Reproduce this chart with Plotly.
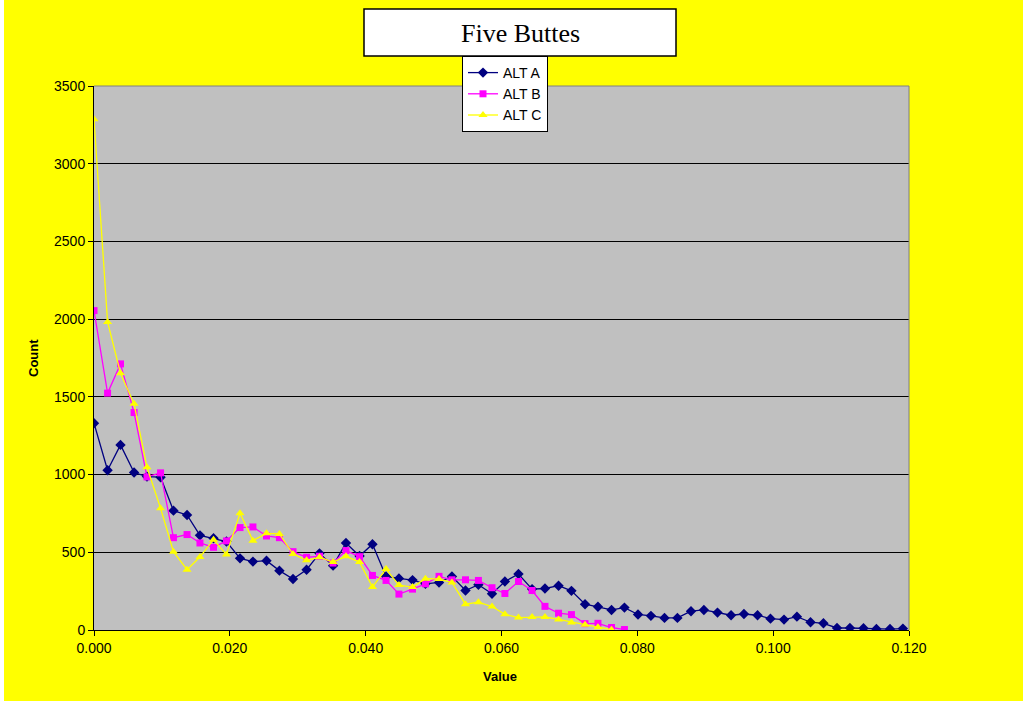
import plotly.graph_objects as go

x_values = [0.0000, 0.0020, 0.0039, 0.0059, 0.0078, 0.0098, 0.0117, 0.0137, 0.0156, 0.0176,
            0.0195, 0.0215, 0.0234, 0.0254, 0.0273, 0.0293, 0.0313, 0.0332, 0.0352, 0.0371,
            0.0391, 0.0410, 0.0430, 0.0449, 0.0469, 0.0488, 0.0508, 0.0527, 0.0547, 0.0566,
            0.0586, 0.0605, 0.0625, 0.0645, 0.0664, 0.0684, 0.0703, 0.0723, 0.0742, 0.0762,
            0.0781, 0.0801, 0.0820, 0.0840, 0.0859, 0.0879, 0.0898, 0.0918, 0.0938, 0.0957,
            0.0977, 0.0996, 0.1016, 0.1035, 0.1055, 0.1074, 0.1094, 0.1113, 0.1133, 0.1152,
            0.1172, 0.1191]

alt_a = [1330, 1028, 1191, 1013, 987, 983, 768, 740, 609, 590,
         569, 461, 440, 446, 382, 328, 388, 493, 414, 560,
         476, 552, 345, 332, 321, 297, 306, 345, 254, 291,
         233, 312, 360, 263, 267, 285, 252, 166, 150, 129,
         144, 100, 91, 78, 78, 121, 129, 112, 95, 103,
         95, 73, 67, 86, 50, 43, 13, 13, 11, 6,
         6, 9]

alt_b = [2055, 1524, 1712, 1399, 985, 1011, 594, 614, 560, 532,
         573, 659, 663, 605, 594, 504, 468, 474, 431, 511,
         472, 351, 319, 231, 263, 297, 345, 323, 323, 319,
         272, 235, 312, 254, 152, 108, 99, 41, 43, 16,
         3]

alt_c = [3286, 1982, 1652, 1455, 1047, 783, 504, 388, 470, 581,
         485, 751, 575, 622, 618, 489, 448, 468, 437, 474,
         437, 276, 392, 289, 276, 330, 328, 306, 166, 179,
         151, 101, 80, 84, 84, 68, 49, 34, 18, 2]

series_names = ["ALT A", "ALT B", "ALT C"]
chart_title = "Five Buttes"
x_title = "Value"
y_title = "Count"

W, H = 1023, 706
L, R, T, B = 94, 909, 86, 630
pw, ph = R - L, B - T

def px_x(p):
    return (p - L) / pw

def px_y(p):
    return (B - p) / ph

fig = go.Figure()
fig.add_trace(go.Scatter(x=x_values[:len(alt_a)], y=alt_a, name=series_names[0], mode="lines+markers",
                         line=dict(color="#000080", width=1.3),
                         marker=dict(symbol="diamond", size=8, color="#000080")))
fig.add_trace(go.Scatter(x=x_values[:len(alt_b)], y=alt_b, name=series_names[1], mode="lines+markers",
                         line=dict(color="#FF00FF", width=1.3),
                         marker=dict(symbol="square", size=7, color="#FF00FF")))
fig.add_trace(go.Scatter(x=x_values[:len(alt_c)], y=alt_c, name=series_names[2], mode="lines+markers",
                         line=dict(color="#FFFF00", width=1.3),
                         marker=dict(symbol="triangle-up", size=8, color="#FFFF00")))

font_sans = "Liberation Sans, Arial, sans-serif"

shapes = [
    # white margins left and bottom
    dict(type="rect", xref="paper", yref="paper", x0=px_x(-2), x1=px_x(4), y0=px_y(H + 2), y1=px_y(-2),
         fillcolor="white", line=dict(width=0), layer="below"),
    dict(type="rect", xref="paper", yref="paper", x0=px_x(-2), x1=px_x(W + 2), y0=px_y(H + 2), y1=px_y(701),
         fillcolor="white", line=dict(width=0), layer="below"),
    # plot border top/right gray
    dict(type="line", xref="paper", yref="paper", x0=0, x1=1, y0=1, y1=1,
         line=dict(color="#808080", width=1)),
    dict(type="line", xref="paper", yref="paper", x0=1, x1=1, y0=0, y1=1,
         line=dict(color="#808080", width=1)),
    # title box
    dict(type="rect", xref="paper", yref="paper", x0=px_x(364), x1=px_x(676), y0=px_y(56), y1=px_y(9),
         fillcolor="white", line=dict(color="black", width=1.5)),
]

annotations = [
    dict(text=chart_title, xref="paper", yref="paper", x=px_x(520), y=px_y(33),
         xanchor="center", yanchor="middle", showarrow=False,
         font=dict(family="Liberation Serif, Times New Roman, serif", size=26, color="black")),
    dict(text="<b>%s</b>" % x_title, xref="paper", yref="paper", x=px_x(500), y=px_y(676),
         xanchor="center", yanchor="middle", showarrow=False,
         font=dict(family=font_sans, size=13, color="black")),
    dict(text="<b>%s</b>" % y_title, xref="paper", yref="paper", x=px_x(33), y=px_y(358),
         xanchor="center", yanchor="middle", showarrow=False, textangle=-90,
         font=dict(family=font_sans, size=13, color="black")),
]

fig.update_layout(
    width=W, height=H,
    margin=dict(l=L, r=W - R, t=T, b=H - B, pad=0),
    paper_bgcolor="#FFFF00",
    plot_bgcolor="#C0C0C0",
    font=dict(family=font_sans, size=14, color="black"),
    showlegend=True,
    legend=dict(x=px_x(462), y=px_y(56), xanchor="left", yanchor="top",
                bgcolor="white", bordercolor="black", borderwidth=1,
                font=dict(family=font_sans, size=14, color="black"),
                itemwidth=30, tracegroupgap=0),
    shapes=shapes,
    annotations=annotations,
)

fig.update_xaxes(range=[0, 0.12], dtick=0.02, tick0=0, tickformat=".3f",
                 showgrid=False, zeroline=False, showline=True, linecolor="black", linewidth=1,
                 ticks="outside", ticklen=5, tickcolor="black",
                 tickfont=dict(family=font_sans, size=14, color="black"))
fig.update_yaxes(range=[0, 3500], dtick=500, tick0=0,
                 showgrid=True, gridcolor="black", gridwidth=1, zeroline=False,
                 showline=True, linecolor="black", linewidth=1,
                 ticks="outside", ticklen=5, tickcolor="black",
                 tickfont=dict(family=font_sans, size=14, color="black"))

fig.write_html("out.html", config={"displayModeBar": False},
               post_script="document.body.style.margin='0px';document.body.style.padding='0px';")
